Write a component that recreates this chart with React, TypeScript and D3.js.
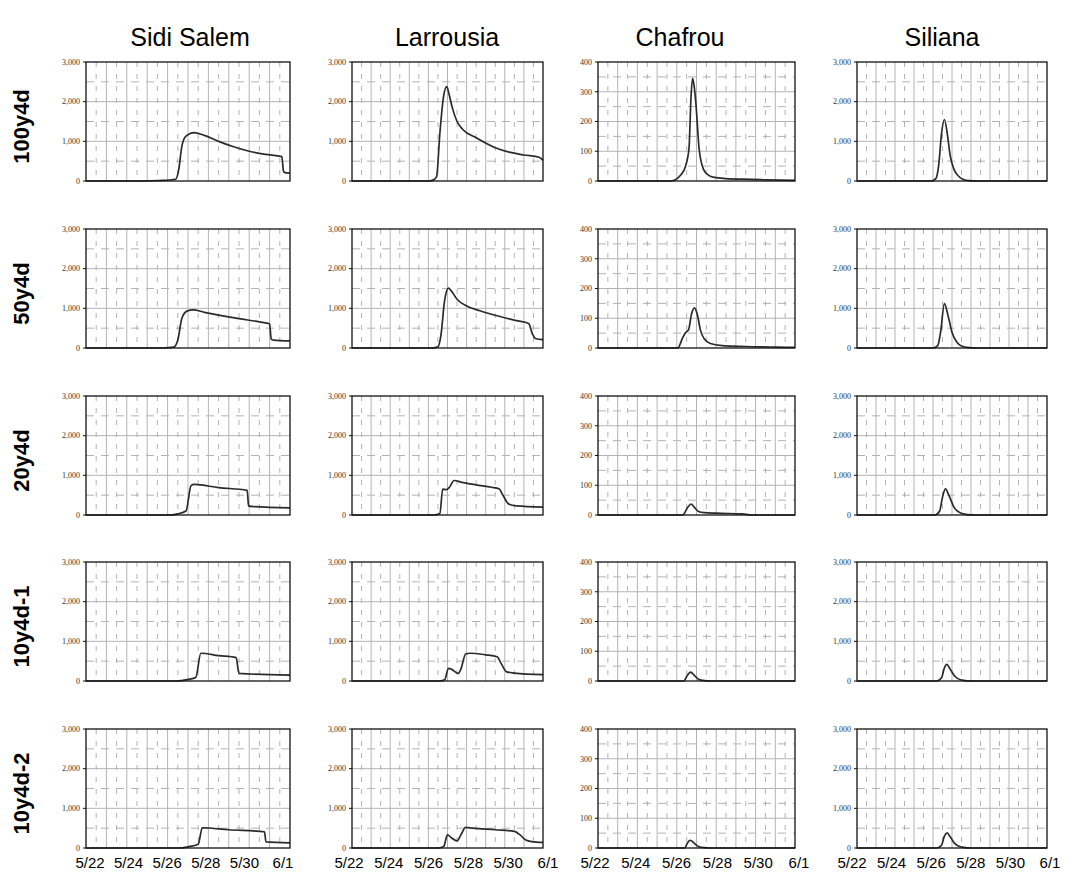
import React from 'react';
import * as d3 from 'd3';

const stations = ['Sidi Salem', 'Larrousia', 'Chafrou', 'Siliana'];
const scenarios = ['100y4d', '50y4d', '20y4d', '10y4d-1', '10y4d-2'];
const dateTicks = [0, 2, 4, 6, 8, 10];
const dateLabels = ['5/22', '5/24', '5/26', '5/28', '5/30', '6/1'];
const stationMax = [3000, 3000, 400, 3000];

// hydrographs: [days after 5/22 0:00, discharge]
const sidiSalem100 = [[0, 0], [2.7, 0], [3.6, 12], [4.4, 45], [4.55, 300], [4.7, 880], [4.9, 1130], [5.3, 1220], [5.8, 1150], [6.5, 1000], [7.2, 870], [8, 750], [8.8, 670], [9.6, 615], [9.68, 250], [9.75, 210], [10, 200]];
const sidiSalem50 = [[0, 0], [3.8, 0], [4.3, 20], [4.5, 200], [4.7, 750], [4.95, 930], [5.25, 960], [5.8, 900], [6.5, 830], [7.5, 740], [8.5, 660], [9.0, 610], [9.08, 220], [9.2, 200], [10, 180]];
const sidiSalem20 = [[0, 0], [4.0, 0], [4.5, 30], [4.9, 100], [5.15, 740], [5.3, 770], [6.5, 690], [7.9, 620], [7.97, 230], [8.1, 215], [10, 180]];
const sidiSalem10a = [[0, 0], [4.4, 0], [5.0, 40], [5.38, 90], [5.63, 700], [6.5, 640], [7.36, 590], [7.5, 190], [10, 150]];
const sidiSalem10b = [[0, 0], [4.5, 0], [5.0, 30], [5.5, 95], [5.7, 510], [7.0, 460], [8.75, 410], [8.82, 155], [10, 130]];

const larrousia100 = [[0, 0], [4.0, 0], [4.3, 40], [4.43, 110], [4.6, 1200], [4.8, 2150], [4.96, 2380], [5.1, 2150], [5.25, 1850], [5.5, 1500], [5.8, 1300], [6.5, 1090], [7.5, 840], [8.3, 720], [9.0, 655], [9.8, 600], [10, 520]];
const larrousia50 = [[0, 0], [4.2, 0], [4.5, 30], [4.65, 300], [4.85, 1200], [5.05, 1510], [5.2, 1440], [5.5, 1230], [6.0, 1060], [6.7, 940], [7.7, 800], [8.6, 690], [9.25, 620], [9.45, 350], [9.6, 240], [10, 210]];
const larrousia20 = [[0, 0], [4.3, 0], [4.6, 40], [4.75, 650], [4.95, 640], [5.1, 700], [5.35, 870], [5.7, 830], [6.5, 760], [7.3, 700], [7.7, 660], [7.9, 500], [8.2, 280], [8.6, 230], [10, 200]];
const larrousia10a = [[0, 0], [4.6, 0], [4.85, 30], [5.05, 320], [5.2, 300], [5.55, 190], [5.7, 300], [5.95, 680], [6.2, 700], [7.0, 660], [7.6, 610], [7.8, 450], [8.1, 230], [8.5, 200], [10, 160]];
const larrousia10b = [[0, 0], [4.55, 0], [4.8, 40], [5.0, 330], [5.2, 260], [5.5, 180], [5.7, 330], [5.95, 520], [6.3, 500], [7.5, 460], [8.5, 420], [8.8, 330], [9.1, 200], [9.4, 160], [10, 140]];

const chafrou100 = [[0, 0], [3.7, 0], [4.2, 20], [4.44, 49], [4.62, 110], [4.72, 280], [4.8, 345], [4.88, 320], [4.97, 260], [5.13, 110], [5.35, 40], [5.6, 20], [5.9, 12], [6.5, 8], [7.3, 6], [8.5, 4], [10, 2]];
const chafrou50 = [[0, 0], [4.05, 0], [4.3, 35], [4.45, 52], [4.6, 62], [4.75, 115], [4.9, 135], [5.05, 110], [5.2, 60], [5.4, 30], [5.7, 15], [6.3, 8], [7.5, 5], [9, 3], [10, 2]];
const chafrou20 = [[0, 0], [4.3, 0], [4.55, 25], [4.72, 37], [4.9, 25], [5.1, 12], [5.4, 8], [6.0, 6], [7.3, 4], [7.8, 0], [10, 0]];
const chafrou10a = [[0, 0], [4.35, 0], [4.55, 20], [4.7, 30], [4.9, 18], [5.1, 6], [5.4, 1], [5.7, 0], [10, 0]];
const chafrou10b = [[0, 0], [4.4, 0], [4.55, 18], [4.68, 26], [4.9, 15], [5.1, 5], [5.4, 1], [5.7, 0], [10, 0]];

const siliana100 = [[0, 0], [3.9, 0], [4.15, 60], [4.3, 400], [4.45, 1200], [4.6, 1550], [4.75, 1200], [4.9, 650], [5.1, 300], [5.35, 120], [5.6, 40], [5.9, 10], [6.3, 0], [10, 0]];
const siliana50 = [[0, 0], [4.0, 0], [4.25, 60], [4.4, 400], [4.6, 1120], [4.8, 800], [5.0, 400], [5.25, 150], [5.5, 50], [5.9, 10], [6.3, 0], [10, 0]];
const siliana20 = [[0, 0], [4.1, 0], [4.35, 100], [4.5, 450], [4.65, 660], [4.85, 480], [5.1, 200], [5.4, 60], [5.8, 10], [6.2, 0], [10, 0]];
const siliana10a = [[0, 0], [4.2, 0], [4.45, 80], [4.6, 330], [4.72, 420], [4.9, 300], [5.15, 120], [5.45, 30], [5.8, 5], [6.2, 0], [10, 0]];
const siliana10b = [[0, 0], [4.2, 0], [4.45, 70], [4.6, 300], [4.74, 380], [4.92, 270], [5.15, 110], [5.45, 30], [5.8, 5], [6.2, 0], [10, 0]];

const hydrographs = [
  [sidiSalem100, larrousia100, chafrou100, siliana100],
  [sidiSalem50, larrousia50, chafrou50, siliana50],
  [sidiSalem20, larrousia20, chafrou20, siliana20],
  [sidiSalem10a, larrousia10a, chafrou10a, siliana10a],
  [sidiSalem10b, larrousia10b, chafrou10b, siliana10b],
];

// layout
const colX = [[86, 290], [352, 543], [598, 795], [857, 1047]];
const labelX = [[90, 283], [349, 548], [595, 799], [852, 1050]];
const titleX = [190, 447, 680, 942];
const rowY = [62, 229, 396, 562, 729];
const PANEL_H = 119;
const GRID = '#b4b4b4';
const DASH = '#a0a0a0';

function Panel({ data, cx, top, max }) {
  const x = d3.scaleLinear().domain([0, 10]).range(cx);
  const y = d3.scaleLinear().domain([0, max]).range([top + PANEL_H, top]);
  const step = max === 400 ? 100 : 1000;
  const major = d3.range(0, max + 1, step);
  const minor = d3.range(step / 2, max, step);
  const days = d3.range(1, 10);
  const halfDays = d3.range(0.5, 10, 1);
  const fmt = d3.format(',');
  const line = d3.line()
    .x(d => x(d[0]))
    .y(d => y(d[1]))
    .curve(d3.curveMonotoneX);

  return (
    <g>
      {halfDays.map(d => (
        <line key={'hd' + d} x1={x(d)} x2={x(d)} y1={top} y2={top + PANEL_H}
          stroke={DASH} strokeWidth={0.8} strokeDasharray="5,7" />
      ))}
      {minor.map(v => (
        <line key={'mv' + v} x1={cx[0]} x2={cx[1]} y1={y(v)} y2={y(v)}
          stroke={DASH} strokeWidth={0.8} strokeDasharray="8,7" />
      ))}
      {days.map(d => (
        <line key={'d' + d} x1={x(d)} x2={x(d)} y1={top} y2={top + PANEL_H}
          stroke={GRID} strokeWidth={1} />
      ))}
      {major.slice(1, -1).map(v => (
        <line key={'v' + v} x1={cx[0]} x2={cx[1]} y1={y(v)} y2={y(v)}
          stroke={GRID} strokeWidth={1} />
      ))}
      <path d={line(data)} fill="none" stroke="#2b2b2b" strokeWidth={1.7} />
      <rect x={cx[0]} y={top} width={cx[1] - cx[0]} height={PANEL_H}
        fill="none" stroke="#111" strokeWidth={1.3} />
      {major.map(v => (
        <g key={'t' + v}>
          <line x1={cx[0] - 3} x2={cx[0]} y1={y(v)} y2={y(v)} stroke="#111" />
          <text x={cx[0] - 6} y={y(v)} dy="0.35em" textAnchor="end"
            fontFamily="'Liberation Serif', serif" fontSize={8} fill="#333">
            {fmt(v)}
          </text>
        </g>
      ))}
    </g>
  );
}

export default function App() {
  return (
    <svg width={1066} height={875} style={{ position: 'absolute', left: 0, top: 0, background: '#fff' }}>
      <rect width={1066} height={875} fill="#fff" />
      {stations.map((s, i) => (
        <text key={s} x={titleX[i]} y={46} textAnchor="middle"
          fontFamily="'Liberation Sans', Arial, sans-serif" fontSize={25} fill="#000">
          {s}
        </text>
      ))}
      {scenarios.map((s, r) => (
        <text key={s} transform={`translate(21,${rowY[r] + PANEL_H / 2 + 5}) rotate(-90)`}
          textAnchor="middle" dominantBaseline="central"
          fontFamily="'Liberation Sans', Arial, sans-serif" fontWeight="bold" fontSize={22} fill="#000">
          {s}
        </text>
      ))}
      {hydrographs.map((row, r) => row.map((data, c) => (
        <Panel key={r + '-' + c} data={data} cx={colX[c]} top={rowY[r]} max={stationMax[c]} />
      )))}
      {labelX.map((lx, c) => {
        const lab = d3.scaleLinear().domain([0, 10]).range(lx);
        return dateTicks.map((t, k) => (
          <text key={c + '-' + t} x={lab(t)} y={868} textAnchor="middle"
            fontFamily="'Liberation Sans', Arial, sans-serif" fontSize={15} fill="#000">
            {dateLabels[k]}
          </text>
        ));
      })}
    </svg>
  );
}
